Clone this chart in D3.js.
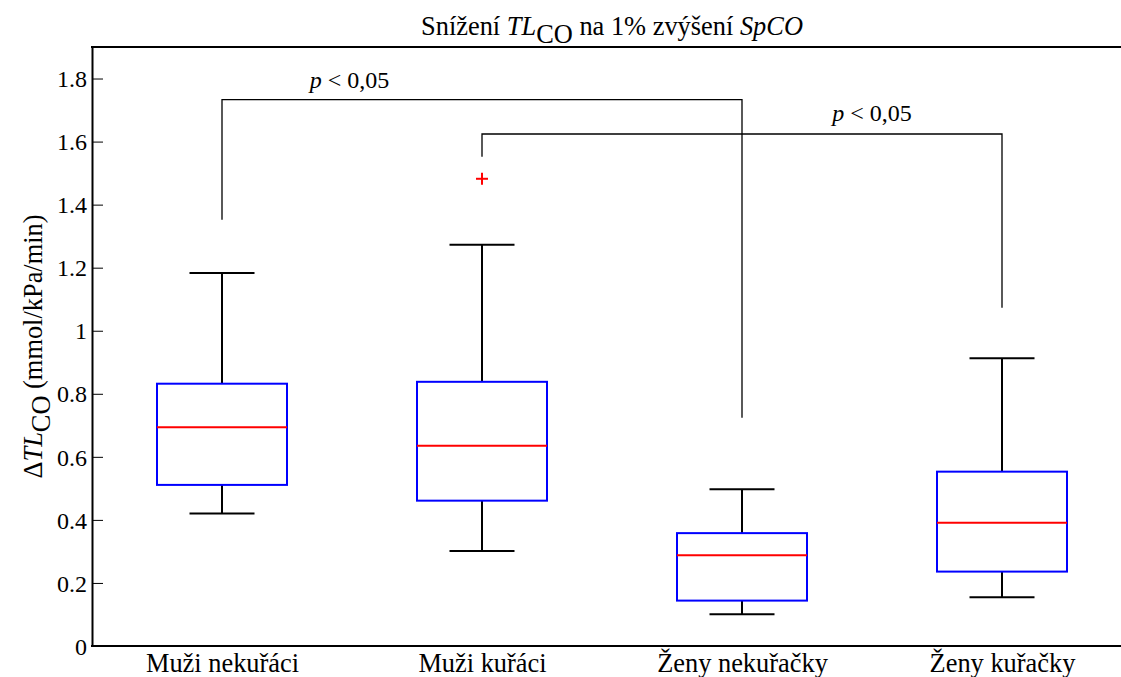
<!DOCTYPE html>
<html>
<head>
<meta charset="utf-8">
<script src="https://cdn.jsdelivr.net/npm/d3@7"></script>
<style>
  html, body { margin: 0; padding: 0; background: #fff; }
  svg { display: block; }
  svg text { font-family: "Liberation Serif", "Times New Roman", serif; fill: #000; }
</style>
</head>
<body>
<svg id="chart" width="1121" height="677"></svg>
<script>
// Groups and box statistics (mmol/kPa/min)
const categories = ["Muži nekuřáci", "Muži kuřáci", "Ženy nekuřačky", "Ženy kuřačky"];
const whiskerLow  = [0.420, 0.301, 0.101, 0.155];
const quartile1   = [0.511, 0.461, 0.144, 0.236];
const medians     = [0.694, 0.635, 0.288, 0.391];
const quartile3   = [0.832, 0.838, 0.358, 0.553];
const whiskerHigh = [1.183, 1.273, 0.497, 0.913];
const outlierGroup = [2];
const outlierValue = [1.482];

// Significance brackets: groups joined, leg ends, bar level, label position
const bracketFrom  = [1, 2];
const bracketTo    = [3, 4];
const bracketLowA  = [1.352, 1.552];
const bracketLowB  = [0.724, 1.073];
const bracketLevel = [1.733, 1.624];
const bracketTextX = [1.49, 3.5];
const bracketTextY = [1.795, 1.690];
const bracketText  = ["< 0,05", "< 0,05"];

const yTicks = [0, 0.2, 0.4, 0.6, 0.8, 1, 1.2, 1.4, 1.6, 1.8];
const yTickLabels = ["0", "0.2", "0.4", "0.6", "0.8", "1", "1.2", "1.4", "1.6", "1.8"];

const svg = d3.select("#chart");
const plotLeft = 92, plotTop = 47, plotBottom = 646, plotRight = 1132;

const x = d3.scaleLinear().domain([0.5, 4.5]).range([plotLeft, plotRight]);
const y = d3.scaleLinear().domain([0, 1.9]).range([plotBottom, plotTop]);

const tickFont = 24;     // tick labels and annotations
const labelFont = 26.4;  // title, axis label and group names
const boxHalf = 0.25, capHalf = 0.125;

// Axis frame: left, top and bottom edges
const yAxis = d3.axisLeft(y).tickValues(yTicks).tickFormat((d, i) => yTickLabels[i])
  .tickSizeInner(-11).tickSizeOuter(0).tickPadding(6);
const gy = svg.append("g").attr("transform", `translate(${plotLeft},0)`).call(yAxis)
  .attr("font-family", null).attr("font-size", tickFont);
gy.select(".domain").attr("stroke", "#000").attr("stroke-width", 2);
gy.selectAll(".tick line").attr("stroke", "#000").attr("stroke-width", 1);
gy.selectAll(".tick text").attr("fill", "#000").attr("x", -5).attr("dy", "0.34em");

svg.append("line").attr("x1", plotLeft - 1).attr("x2", plotRight).attr("y1", y(0)).attr("y2", y(0))
  .attr("stroke", "#000").attr("stroke-width", 2);
svg.append("line").attr("x1", plotLeft - 1).attr("x2", plotRight).attr("y1", y(1.9)).attr("y2", y(1.9))
  .attr("stroke", "#000").attr("stroke-width", 2);

// Group names under the boxes
const xAxis = d3.axisBottom(x).tickValues([1, 2, 3, 4]).tickFormat((d, i) => categories[i])
  .tickSize(0).tickPadding(0);
const gx = svg.append("g").attr("transform", `translate(0,${plotBottom})`).call(xAxis)
  .attr("font-family", null).attr("font-size", labelFont);
gx.select(".domain").remove();
gx.selectAll(".tick text").attr("fill", "#000").attr("y", 26).attr("dy", 0);

// Boxes
const groups = categories.map((c, i) => ({
  pos: i + 1, lo: whiskerLow[i], q1: quartile1[i], med: medians[i], q3: quartile3[i], hi: whiskerHigh[i]
}));
const g = svg.append("g");
function line(x1, y1, x2, y2, color) {
  g.append("line").attr("x1", x1).attr("y1", y1).attr("x2", x2).attr("y2", y2)
    .attr("stroke", color).attr("stroke-width", 2);
}
groups.forEach(d => {
  // whiskers and caps
  line(x(d.pos), y(d.q3), x(d.pos), y(d.hi), "#000");
  line(x(d.pos), y(d.q1), x(d.pos), y(d.lo), "#000");
  line(x(d.pos - capHalf), y(d.hi), x(d.pos + capHalf), y(d.hi), "#000");
  line(x(d.pos - capHalf), y(d.lo), x(d.pos + capHalf), y(d.lo), "#000");
  // interquartile box
  g.append("rect").attr("x", x(d.pos - boxHalf)).attr("y", y(d.q3))
    .attr("width", x(d.pos + boxHalf) - x(d.pos - boxHalf)).attr("height", y(d.q1) - y(d.q3))
    .attr("fill", "none").attr("stroke", "#0000ff").attr("stroke-width", 2);
  // median
  line(x(d.pos - boxHalf), y(d.med), x(d.pos + boxHalf), y(d.med), "#ff0000");
});

// Outliers
outlierGroup.forEach((p, i) => {
  const cx = x(p), cy = y(outlierValue[i]), r = 6;
  line(cx - r, cy, cx + r, cy, "#ff0000");
  line(cx, cy - r, cx, cy + r, "#ff0000");
});

// Significance brackets
bracketFrom.forEach((a, i) => {
  const b = bracketTo[i];
  const path = d3.path();
  path.moveTo(x(a), y(bracketLowA[i]));
  path.lineTo(x(a), y(bracketLevel[i]));
  path.lineTo(x(b), y(bracketLevel[i]));
  path.lineTo(x(b), y(bracketLowB[i]));
  svg.append("path").attr("d", path.toString()).attr("fill", "none")
    .attr("stroke", "#000").attr("stroke-width", 1.3);
  const t = svg.append("text").attr("x", x(bracketTextX[i])).attr("y", y(bracketTextY[i]))
    .attr("dy", "0.34em").attr("text-anchor", "middle").attr("font-size", tickFont);
  t.append("tspan").attr("font-style", "italic").text("p");
  t.append("tspan").text(" " + bracketText[i]);
});

// Title
const title = svg.append("text").attr("x", (plotLeft + plotRight) / 2).attr("y", 35)
  .attr("text-anchor", "middle").attr("font-size", labelFont);
title.append("tspan").text("Snížení ");
title.append("tspan").attr("font-style", "italic").text("TL");
title.append("tspan").attr("dy", 8).text("CO");
title.append("tspan").attr("dy", -8).text(" na 1% zvýšení ");
title.append("tspan").attr("font-style", "italic").text("SpCO");

// Y axis label
const yl = svg.append("text").attr("transform", `translate(42,${(plotTop + plotBottom) / 2}) rotate(-90)`)
  .attr("text-anchor", "middle").attr("font-size", labelFont);
yl.append("tspan").text("Δ");
yl.append("tspan").attr("font-style", "italic").text("TL");
yl.append("tspan").attr("dy", 8).text("CO");
yl.append("tspan").attr("dy", -8).text(" (mmol/kPa/min)");
</script>
</body>
</html>
